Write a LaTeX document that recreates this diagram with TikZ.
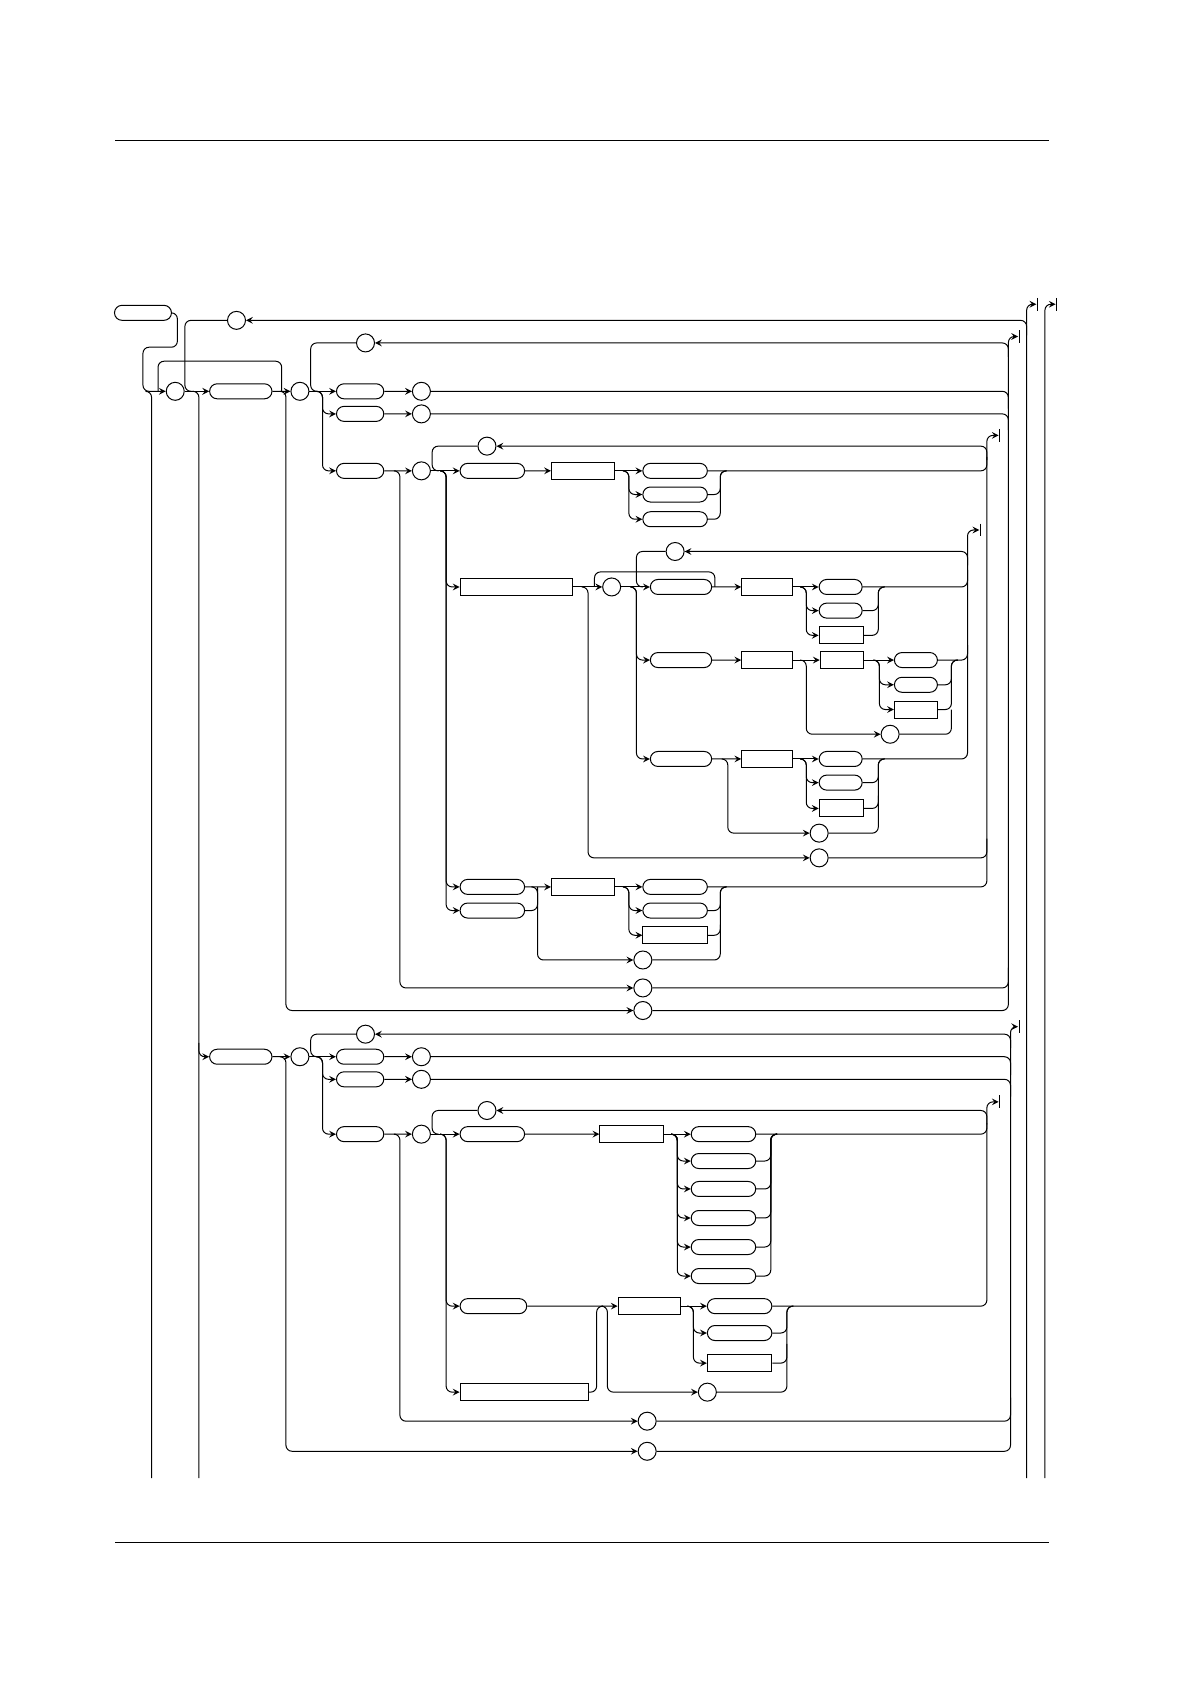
\documentclass[tikz,border=0pt]{standalone}
\usetikzlibrary{shapes.misc}
\usetikzlibrary{arrows}
\tikzset{
    % Arrow tips as in the railroad charts
    >=stealth,
%
    % Node shapes
    pill/.style={draw, rounded rectangle, minimum height=7.5pt,
        minimum width=#1*0.5375pt, inner sep=0},
    box/.style={draw, rectangle, minimum height=8.5pt,
        minimum width=#1*0.5375pt, inner sep=0},
    term/.style={draw, circle, minimum size=9pt, inner sep=0},
    % Lines
    rc/.style={rounded corners=3pt},
    every path/.style={line width=0.5pt},
}
\newcommand{\stopbar}[2]{\draw (#1,#2-6) -- (#1,#2+6);}

\begin{document}
\begin{tikzpicture}[x=0.5375pt, y=-0.5375pt]
\useasboundingbox (0,0) rectangle (1107,1566.5);
\draw (107,131) -- (976,131);
\draw (107,1435) -- (976,1435);

% Upper block
\node [pill=53] (start) at (133,291) {};
\node [term] (top loop) at (220,298) {};
\node [term] (c1) at (163,364) {};
\node [pill=58] (p1) at (224,364) {};
\node [term] (c2) at (279,364) {};
\node [term] (l1) at (340,319) {};
\node [pill=44] (p11) at (335,364) {};
\node [pill=44] (p12) at (335,385) {};
\node [pill=44] (p13) at (335,438) {};
\node [term] (c11) at (392,364) {};
\node [term] (c12) at (392,385) {};
\node [term] (c13) at (392,438) {};
\node [term] (l2) at (453,415) {};
\node [pill=60] (a1) at (458,438) {};
\node [box=59] (b1) at (542.5,438) {};
\node [pill=60] (a11) at (628,438) {};
\node [pill=60] (a12) at (628,460) {};
\node [pill=60] (a13) at (628,483) {};
\node [box=105] (bx) at (480.5,546) {};
\node [term] (c4) at (569,546) {};
\node [term] (l3) at (628,513) {};
\node [pill=57] (r1) at (633.5,546) {};
\node [box=47] (r1b) at (713.5,546) {};
\node [pill=40] (r11) at (782,546) {};
\node [pill=40] (r12) at (782,568) {};
\node [box=41] (r13) at (782.5,591) {};
\node [pill=57] (r2) at (633.5,614) {};
\node [box=47] (r2b) at (713.5,614) {};
\node [box=40] (r2c) at (783,614) {};
\node [pill=40] (r21) at (852,614) {};
\node [pill=40] (r22) at (852,637) {};
\node [box=40] (r23) at (852,660) {};
\node [term] (r2s) at (828,683) {};
\node [pill=57] (r3) at (633.5,706) {};
\node [box=47] (r3b) at (713.5,706) {};
\node [pill=40] (r31) at (782,706) {};
\node [pill=40] (r32) at (782,728) {};
\node [box=41] (r33) at (782.5,752) {};
\node [term] (r3s) at (762,775) {};
\node [term] (bxs) at (762,798) {};
\node [pill=60] (d1) at (458,825) {};
\node [pill=60] (d2) at (458,847) {};
\node [box=59] (db) at (542.5,825) {};
\node [pill=60] (d11) at (628,825) {};
\node [pill=60] (d12) at (628,847) {};
\node [box=60] (d13) at (628,870) {};
\node [term] (ds) at (598,893) {};
\node [term] (c3s) at (598,919) {};
\node [term] (c2s) at (598,940) {};

\draw [rc, ->] (start.east) -| (165,323) -| (133,364) -- (c1);
\draw [rc] (136,364) -| (141,1375);
\draw [rc] (147,364) |- (262,336) -- (262,364);
\draw [->] (c1) -- (p1);
\draw [rc] (180,364) -| (185,1375);
\draw [rc, ->] (955,1375) |- (964,283);
\stopbar{965}{283}
\draw [rc, ->] (972,1375) |- (982,283);
\stopbar{983}{283}
\draw [rc, ->] (955,312) |- (top loop);
\draw [rc] (top loop) -| (172,364) -- (180,364);
\draw [->] (p1) -- (c2);
\draw [rc, ->] (262,364) -| (266,940) -- (c2s);
\draw [rc, ->] (c2s) -| (938,313) -- (947,313);
\stopbar{948}{313}
\draw [rc, ->] (938,332) |- (l1);
\draw [rc] (l1) -| (289,364) -- (296,364);
\draw [->] (c2) -- (p11);
\draw [rc, ->] (295,364) -| (300,385) -- (p12);
\draw [rc, ->] (295,364) -| (300,438) -- (p13);
\draw [->] (p11) -- (c11);
\draw [->] (p12) -- (c12);
\draw [->] (p13) -- (c13);
\draw [rc] (c11) -| (938,380);
\draw [rc] (c12) -| (938,400);
\draw [rc, ->] (368,438) -| (372,919) -- (c3s);
\draw [rc] (c3s) -| (938,900);
\draw [rc, ->] (918,428) |- (l2);
\draw [rc] (l2) -| (402,438) -- (408,438);
\draw [->] (c13) -- (a1);
\draw [rc, ->] (410,438) -| (415,546) -- (bx);
\draw [rc, ->] (410,438) -| (415,825) -- (d1);
\draw [rc, ->] (410,438) -| (415,847) -- (d2);
\draw [->] (a1) -- (b1);
\draw [->] (b1) -- (a11);
\draw [rc, ->] (580,438) -| (585,460) -- (a12);
\draw [rc, ->] (580,438) -| (585,483) -- (a13);
\draw [rc] (a12) -| (670,438) -- (676,438);
\draw [rc] (a13) -| (670,438) -- (676,438);
\draw [rc] (a11) -| (918,425);

% Box row and its three branches
\draw [->] (bx) -- (c4);
\draw [rc, ->] (541,546) -| (547,798) -- (bxs);
\draw [rc] (bxs) -| (918,780);
\draw [rc] (553,546) |- (665,532) -- (665,546);
\draw [rc, ->] (900,526) |- (l3);
\draw [rc] (l3) -| (592,546) -- (598,546);
\draw [->] (c4) -- (r1);
\draw [rc, ->] (587,546) -| (592,614) -- (r2);
\draw [rc, ->] (587,546) -| (592,706) -- (r3);
\draw [->] (r1) -- (r1b);
\draw [->] (r1b) -- (r11);
\draw [rc, ->] (745,546) -| (750,568) -- (r12);
\draw [rc, ->] (745,546) -| (750,591) -- (r13);
\draw [rc] (r12) -| (817,546) -- (823,546);
\draw [rc] (r13) -| (817,546) -- (823,546);
\draw [rc] (r11) -| (900,530);
\draw [->] (r2) -- (r2b);
\draw [->] (r2b) -- (r2c);
\draw [->] (r2c) -- (r21);
\draw [rc, ->] (813,614) -| (818,637) -- (r22);
\draw [rc, ->] (813,614) -| (818,660) -- (r23);
\draw [rc] (r22) -| (885,614) -- (891,614);
\draw [rc] (r23) -| (885,614) -- (891,614);
\draw [rc] (r21) -| (900,600);
\draw [rc, ->] (745,614) -| (750,683) -- (r2s);
\draw [rc] (r2s) -| (885,660);
\draw [->] (r3) -- (r3b);
\draw [->] (r3b) -- (r31);
\draw [rc, ->] (745,706) -| (750,728) -- (r32);
\draw [rc, ->] (745,706) -| (750,752) -- (r33);
\draw [rc] (r32) -| (817,706) -- (823,706);
\draw [rc] (r33) -| (817,706) -- (823,706);
\draw [rc, ->] (r31) -| (900,493) -- (911,493);
\stopbar{912}{493}
\draw [rc, ->] (672,706) -| (677,775) -- (r3s);
\draw [rc] (r3s) -| (817,740);

\draw [->] (d1) -- (db);
\draw [rc] (d2) -| (500,825);
\draw [->] (db) -- (d11);
\draw [rc, ->] (580,825) -| (585,847) -- (d12);
\draw [rc, ->] (580,825) -| (585,870) -- (d13);
\draw [rc] (d12) -| (670,825) -- (676,825);
\draw [rc] (d13) -| (670,825) -- (676,825);
\draw [rc, ->] (496,825) -| (500,893) -- (ds);
\draw [rc] (ds) -| (670,860);
\draw [rc, ->] (d11) -| (918,405) -- (929,405);
\stopbar{930}{405}

% Lower block
\node [pill=58] (q1) at (224,983) {};
\node [term] (e2) at (279,983) {};
\node [term] (m1) at (340,962) {};
\node [pill=44] (q11) at (335,983) {};
\node [pill=44] (q12) at (335,1004) {};
\node [pill=44] (q13) at (335,1055) {};
\node [term] (e11) at (392,983) {};
\node [term] (e12) at (392,1004) {};
\node [term] (e13) at (392,1055) {};
\node [term] (m2) at (453,1033) {};
\node [pill=60] (f1) at (458,1055) {};
\node [box=59] (fb) at (587.5,1055) {};
\foreach \y [count=\i] in {1055,1080,1106,1133,1160,1187}
    \node [pill=60] (f1\i) at (673,\y) {};
\node [pill=62] (g1) at (459,1215) {};
\node [box=58] (gb) at (604,1215) {};
\node [pill=60] (g11) at (688,1215) {};
\node [pill=60] (g12) at (688,1240) {};
\node [box=60] (g13) at (688,1268) {};
\node [term] (gs) at (658,1295) {};
\node [box=119] (h1) at (487.5,1295) {};
\node [term] (e13s) at (602,1322) {};
\node [term] (e2s) at (602,1350) {};

\draw [rc, ->] (185,970) |- (q1);
\draw [->] (q1) -- (e2);
\draw [rc, ->] (262,983) -| (266,1350) -- (e2s);
\draw [rc, ->] (e2s) -| (940,955) -- (947,955);
\stopbar{948}{955}
\draw [rc, ->] (940,975) |- (m1);
\draw [rc] (m1) -| (289,983) -- (296,983);
\draw [->] (e2) -- (q11);
\draw [rc, ->] (295,983) -| (300,1004) -- (q12);
\draw [rc, ->] (295,983) -| (300,1055) -- (q13);
\draw [->] (q11) -- (e11);
\draw [->] (q12) -- (e12);
\draw [->] (q13) -- (e13);
\draw [rc] (e11) -| (940,1000);
\draw [rc] (e12) -| (940,1020);
\draw [rc, ->] (368,1055) -| (372,1322) -- (e13s);
\draw [rc] (e13s) -| (940,1300);
\draw [rc, ->] (918,1046) |- (m2);
\draw [rc] (m2) -| (402,1055) -- (408,1055);
\draw [->] (e13) -- (f1);
\draw [rc, ->] (410,1055) -| (415,1215) -- (g1);
\draw [rc, ->] (410,1055) -| (415,1295) -- (h1);
\draw [->] (f1) -- (fb);
\draw [->] (fb) -- (f11);
\foreach \i in {2,...,6} {
    \draw [rc, ->] (625,1055) -| (630,0 |- f1\i) -- (f1\i);
    \draw [rc] (f1\i) -| (717,1055) -- (723,1055);
}
\draw [rc] (f11) -| (918,1045);
\draw [->] (g1) -- (gb);
\draw [rc] (h1) -| (555,1215) -- (561,1215);
\draw [rc, ->] (561,1215) -| (565,1295) -- (gs);
\draw [rc] (gs) -| (732,1250);
\draw [->] (gb) -- (g11);
\draw [rc, ->] (640,1215) -| (645,1240) -- (g12);
\draw [rc, ->] (640,1215) -| (645,1268) -- (g13);
\draw [rc] (g12) -| (732,1215) -- (738,1215);
\draw [rc] (g13) -| (732,1215) -- (738,1215);
\draw [rc, ->] (g11) -| (918,1025) -- (929,1025);
\stopbar{930}{1025}

\end{tikzpicture}
\end{document}
